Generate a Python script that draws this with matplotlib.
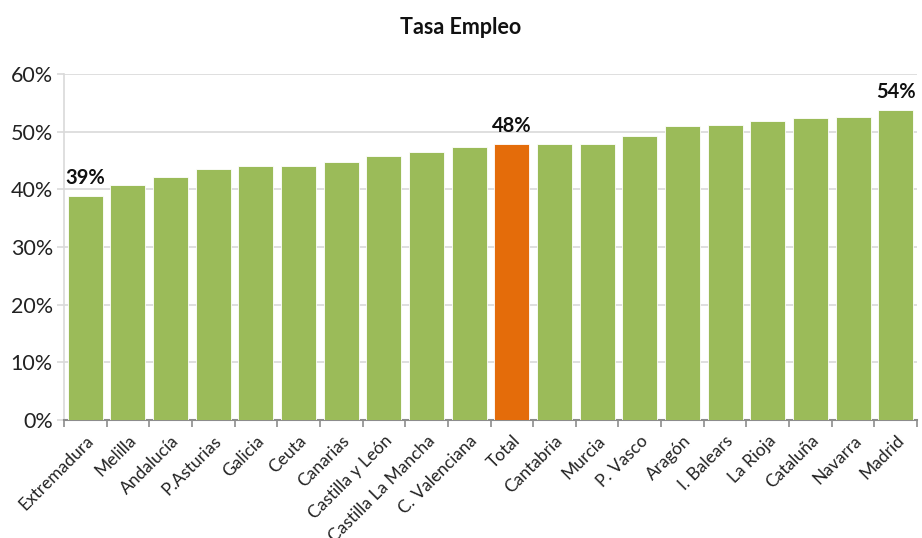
import matplotlib
matplotlib.use("Agg")
import matplotlib.pyplot as plt
from matplotlib.ticker import FuncFormatter, MultipleLocator

categories = ["Extremadura", "Melilla", "Andalucía", "P.Asturias", "Galicia", "Ceuta",
              "Canarias", "Castilla y León", "Castilla La Mancha", "C. Valenciana", "Total",
              "Cantabria", "Murcia", "P. Vasco", "Aragón", "I. Balears", "La Rioja",
              "Cataluña", "Navarra", "Madrid"]
values = [38.8, 40.8, 42.2, 43.6, 44.0, 44.0, 44.7, 45.7, 46.4, 47.4, 47.9,
          47.8, 47.8, 49.2, 50.9, 51.2, 51.9, 52.3, 52.6, 53.7]
labelled = {"Extremadura": "39%", "Total": "48%", "Madrid": "54%"}

plt.rcParams['font.family'] = ['Lato', 'DejaVu Sans']

fig = plt.figure(figsize=(9.22, 5.38), dpi=100)
ax = fig.add_axes([64/922, 1-420/538, (917-64)/922, (420-74)/538])

colors = ["#E46C0A" if c == "Total" else "#9BBB59" for c in categories]
x = list(range(len(categories)))
bars = ax.bar(x, values, width=0.82, color=colors, edgecolor="white", linewidth=0.6, zorder=3)

for xi, c, v in zip(x, categories, values):
    if c in labelled:
        ax.text(xi, v + 1.4, labelled[c], ha="center", va="bottom",
                fontsize=14.5, fontweight="bold", color="#111111")

ax.set_xlim(-0.5, len(categories) - 0.5)
ax.set_ylim(0, 60)
ax.yaxis.set_major_locator(MultipleLocator(10))
ax.yaxis.set_major_formatter(FuncFormatter(lambda v, p: f"{int(v)}%"))
ax.grid(axis="y", color="#D9D9D9", linewidth=1.2, zorder=0)

for s in ["top", "right"]:
    ax.spines[s].set_visible(False)
ax.spines["left"].set_color("#D9D9D9")
ax.spines["left"].set_linewidth(1.2)
ax.spines["bottom"].set_color("#8C8C8C")
ax.spines["bottom"].set_linewidth(1.5)

ax.tick_params(axis="y", length=5, color="#D9D9D9", width=1.2, labelsize=15.5, labelcolor="#222222", pad=3)
ax.set_xticks([i - 0.5 for i in range(len(categories) + 1)], minor=False)
ax.set_xticklabels([""] * (len(categories) + 1))
ax.tick_params(axis="x", which="major", length=5, color="#8C8C8C", width=1.2)
ax.set_xticks(x, minor=True)
ax.set_xticklabels(categories, minor=True, rotation=45, ha="right", rotation_mode="anchor", fontsize=12.5, color="#222222")
ax.tick_params(axis="x", which="minor", length=0, pad=9)

fig.text(0.5, 1 - 28/538, "Tasa Empleo", ha="center", va="center", fontsize=15.5, fontweight="bold", color="#111111")

fig.savefig("out.png", dpi=100)
